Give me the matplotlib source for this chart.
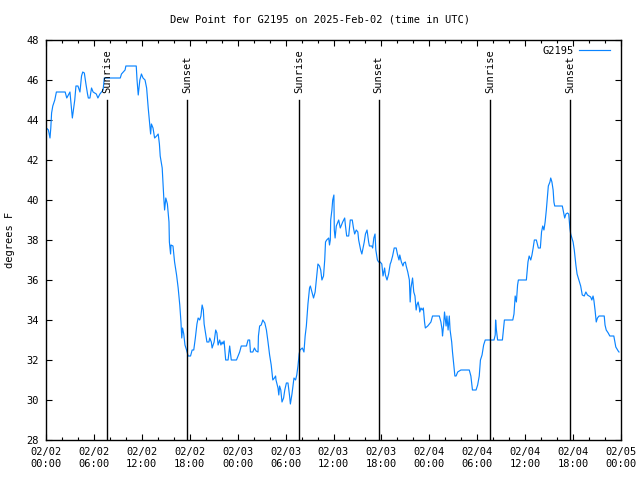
import matplotlib
matplotlib.use("Agg")
import matplotlib.pyplot as plt
from matplotlib.ticker import MultipleLocator

plt.rcParams.update({
    'font.family': 'DejaVu Sans Mono',
    'font.size': 7.5,
})

# hours since 2025-02-02 00:00 UTC
hours = [
    0.05, 0.3, 0.5, 0.6, 0.7, 0.85, 1.1, 1.3, 2.4, 2.6, 3.0, 3.2, 3.3, 3.6, 3.75, 4.0,
    4.25, 4.45, 4.6, 4.8, 5.0, 5.2, 5.3, 5.5, 5.7, 5.9, 6.3, 6.5, 6.75, 7.15, 7.3, 9.3,
    9.45, 9.9, 10.0, 11.3, 11.4, 11.55, 11.75, 11.95, 12.15, 12.4, 12.6, 12.8, 13.0, 13.1,
    13.2, 13.4, 13.6, 13.85, 14.05, 14.2, 14.3, 14.55, 14.75, 14.85, 15.0, 15.2, 15.4, 15.45,
    15.6, 15.65, 15.9, 16.1, 16.35, 16.55, 16.75, 16.9, 17.0, 17.1, 17.25, 17.4, 17.6, 17.8,
    18.1, 18.3, 18.5, 18.7, 18.9, 19.05, 19.25, 19.4, 19.55, 19.7, 19.8, 20.0, 20.15, 20.4,
    20.5, 20.7, 20.8, 21.05, 21.15, 21.25, 21.4, 21.55, 21.75, 21.9, 22.05, 22.15, 22.3, 22.5,
    22.8, 23.0, 23.2, 23.85, 24.05, 24.25, 24.45, 25.1, 25.3, 25.5, 25.6, 25.9, 26.1, 26.3,
    26.55, 26.6, 26.75, 26.95, 27.15, 27.4, 27.6, 27.8, 28.0, 28.2, 28.4, 28.6, 28.75, 28.8,
    29.05, 29.15, 29.25, 29.4, 29.55, 29.75, 29.9, 30.1, 30.3, 30.5, 30.6, 30.8, 31.05, 31.25,
    31.4, 31.55, 31.7, 31.8, 32.1, 32.3, 32.45, 32.6, 32.8, 33.0, 33.1, 33.3, 33.5, 33.7,
    33.85, 34.05, 34.25, 34.4, 34.55, 34.75, 34.9, 35.0, 35.15, 35.4, 35.5, 35.6, 35.65, 35.8,
    35.9, 36.05, 36.1, 36.2, 36.35, 36.55, 36.65, 36.85, 36.95, 37.15, 37.4, 37.5, 37.65, 37.9,
    38.1, 38.35, 38.5, 38.65, 38.85, 39.05, 39.15, 39.4, 39.55, 39.65, 39.85, 40.0, 40.2, 40.4,
    40.5, 40.8, 40.9, 41.05, 41.2, 41.3, 41.5, 41.65, 41.85, 42.05, 42.2, 42.4, 42.5, 42.7,
    42.9, 43.1, 43.2, 43.4, 43.6, 43.85, 44.0, 44.2, 44.3, 44.5, 44.7, 44.8, 45.0, 45.1,
    45.3, 45.5, 45.6, 45.7, 45.85, 45.9, 46.05, 46.2, 46.35, 46.45, 46.6, 46.75, 46.8, 46.95,
    47.1, 47.25, 47.4, 47.5, 47.8, 48.0, 48.2, 48.4, 49.25, 49.45, 49.6, 49.65, 49.8, 49.9,
    50.1, 50.2, 50.35, 50.5, 50.6, 50.8, 50.9, 51.05, 51.2, 51.35, 51.55, 51.95, 53.0, 53.2,
    53.4, 53.85, 54.05, 54.25, 54.4, 54.6, 54.8, 55.0, 56.1, 56.25, 56.3, 56.4, 56.55, 57.15,
    57.4, 58.45, 58.6, 58.75, 58.9, 59.05, 59.15, 60.15, 60.35, 60.5, 60.7, 60.85, 61.0, 61.15,
    61.4, 61.65, 61.9, 62.05, 62.2, 62.35, 62.5, 62.65, 62.8, 62.9, 63.1, 63.2, 63.35, 63.5,
    63.6, 63.7, 64.65, 64.8, 64.95, 65.1, 65.3, 65.45, 65.6, 65.7, 65.85, 66.0, 66.15, 66.35,
    66.5, 66.65, 66.8, 66.95, 67.15, 67.4, 67.6, 67.8, 68.0, 68.2, 68.35, 68.5, 68.6, 68.75,
    68.9, 69.05, 69.25, 69.9, 70.0, 70.15, 70.4, 70.6, 71.1, 71.35, 71.65, 71.75,
]

dew_point = [
    43.6, 43.5, 43.1, 43.6, 44.35, 44.7, 45.0, 45.4, 45.4, 45.1, 45.4, 44.5, 44.1, 45.0, 45.7, 45.7,
    45.4, 46.2, 46.4, 46.35, 45.8, 45.3, 45.1, 45.1, 45.6, 45.4, 45.3, 45.1, 45.3, 45.5, 46.1, 46.1,
    46.3, 46.5, 46.7, 46.7, 46.0, 45.25, 46.0, 46.3, 46.1, 46.0, 45.6, 44.6, 43.7, 43.3,
    43.8, 43.6, 43.1, 43.2, 43.3, 42.8, 42.2, 41.6, 40.1, 39.5, 40.1, 39.8, 38.9, 37.9,
    37.3, 37.75, 37.7, 36.9, 36.25, 35.6, 34.75, 33.9, 33.1, 33.6, 33.3, 32.75, 32.5, 32.2,
    32.2, 32.5, 32.5, 33.1, 33.8, 34.1, 34.0, 34.2, 34.75, 34.5, 33.8, 33.3, 32.9, 32.9,
    33.1, 32.9, 32.6, 32.9, 33.2, 33.5, 33.35, 32.75, 33.0, 32.75, 32.9, 32.8, 32.95, 32.0,
    32.0, 32.7, 32.0, 32.0, 32.2, 32.4, 32.7, 32.7, 33.0, 33.0, 32.4, 32.4, 32.6, 32.45,
    32.4, 33.2, 33.7, 33.75, 34.0, 33.85, 33.5, 32.9, 32.25, 31.75, 31.0, 31.1, 31.2, 31.0,
    30.6, 30.25, 30.7, 30.5, 29.9, 30.1, 30.5, 30.85, 30.85, 30.2, 29.8, 30.3, 31.1, 31.0,
    31.25, 31.7, 32.3, 32.5, 32.6, 32.4, 33.2, 33.7, 34.8, 35.6, 35.7, 35.4, 35.1, 35.4,
    36.0, 36.8, 36.7, 36.5, 36.0, 36.2, 37.0, 37.9, 38.0, 38.1, 37.75, 38.0, 39.0, 39.5,
    40.0, 40.25, 38.5, 38.1, 38.7, 38.9, 39.0, 38.6, 38.7, 38.9, 39.1, 38.7, 38.2, 38.2,
    39.0, 39.0, 38.6, 38.3, 38.5, 38.4, 38.0, 37.5, 37.3, 37.5, 37.9, 38.3, 38.5, 37.9,
    37.7, 37.7, 37.6, 38.1, 38.3, 37.5, 37.0, 36.9, 36.9, 36.8, 36.2, 36.6, 36.25, 36.0,
    36.3, 36.8, 36.9, 37.2, 37.6, 37.6, 37.3, 37.0, 37.25, 36.9, 36.7, 36.85, 36.9, 36.7,
    36.4, 36.0, 34.9, 35.6, 36.0, 36.1, 35.4, 35.2, 34.5, 34.75, 34.9, 34.6, 34.4, 34.6,
    34.5, 34.6, 33.9, 33.6, 33.7, 33.8, 33.9, 34.2, 34.2, 33.9, 33.5, 33.2, 33.8, 34.4,
    33.7, 34.2, 33.5, 34.2, 33.5, 32.9, 32.4, 31.8, 31.2, 31.2, 31.4, 31.5, 31.5, 31.2,
    30.5, 30.5, 30.75, 31.2, 32.0, 32.25, 32.75, 33.0, 33.0, 33.25, 34.0, 33.5, 33.0, 33.0,
    34.0, 34.0, 34.3, 35.2, 34.9, 35.75, 36.0, 36.0, 36.9, 37.2, 37.0, 37.25, 37.6, 38.0,
    38.0, 37.6, 37.6, 38.4, 38.7, 38.5, 38.9, 39.5, 40.2, 40.7, 40.9, 41.1, 40.9, 40.5,
    39.9, 39.7, 39.7, 39.4, 39.1, 39.3, 39.35, 39.3, 38.6, 38.3, 38.1, 37.9, 37.5, 36.75,
    36.3, 36.1, 35.9, 35.7, 35.25, 35.2, 35.4, 35.25, 35.2, 35.15, 35.0, 35.2, 35.0, 34.5,
    33.9, 34.1, 34.2, 34.2, 33.75, 33.5, 33.35, 33.2, 33.2, 32.65, 32.45, 32.4,
]

sun_hours = [7.67, 17.67, 31.65, 41.65, 55.63, 65.63]
sun_labels = ["Sunrise", "Sunset", "Sunrise", "Sunset", "Sunrise", "Sunset"]

tick_hours = list(range(0, 73, 6))
tick_labels = [
    "02/02\n00:00", "02/02\n06:00", "02/02\n12:00", "02/02\n18:00",
    "02/03\n00:00", "02/03\n06:00", "02/03\n12:00", "02/03\n18:00",
    "02/04\n00:00", "02/04\n06:00", "02/04\n12:00", "02/04\n18:00",
    "02/05\n00:00",
]

fig = plt.figure(figsize=(6.4, 4.8), dpi=100)
ax = fig.add_axes([46 / 640, 40 / 480, 575 / 640, 400 / 480])

ax.plot(hours, dew_point, color='#0a84ff', lw=0.85, label='G2195')

for h, lab in zip(sun_hours, sun_labels):
    ax.plot([h, h], [28, 45], color='black', lw=1.0)
    ax.text(h, 45.35, lab, rotation=90, ha='center', va='bottom', fontsize=7.5)

ax.set_xlim(0, 72)
ax.set_ylim(28, 48)
ax.set_xticks(tick_hours)
ax.set_xticklabels(tick_labels)
ax.xaxis.set_minor_locator(MultipleLocator(2))
ax.yaxis.set_major_locator(MultipleLocator(2))

ax.tick_params(which='both', direction='in', top=True, right=True, labelsize=7.5)
ax.tick_params(which='major', length=4.5, width=0.8, pad=5)
ax.tick_params(which='minor', length=2.3, width=0.8)
for sp in ax.spines.values():
    sp.set_linewidth(1.0)

ax.set_ylabel('degrees F', fontsize=7.5, labelpad=8)
fig.text(0.5, 1 - 20 / 480, 'Dew Point for G2195 on 2025-Feb-02 (time in UTC)',
         ha='center', va='center', fontsize=7.5)

ax.legend(loc='upper right', bbox_to_anchor=(0.99, 1.0), frameon=False,
          markerfirst=False, handlelength=2.9, handletextpad=0.5,
          borderaxespad=0.15, fontsize=7.5)

fig.savefig('out.png', dpi=100)
